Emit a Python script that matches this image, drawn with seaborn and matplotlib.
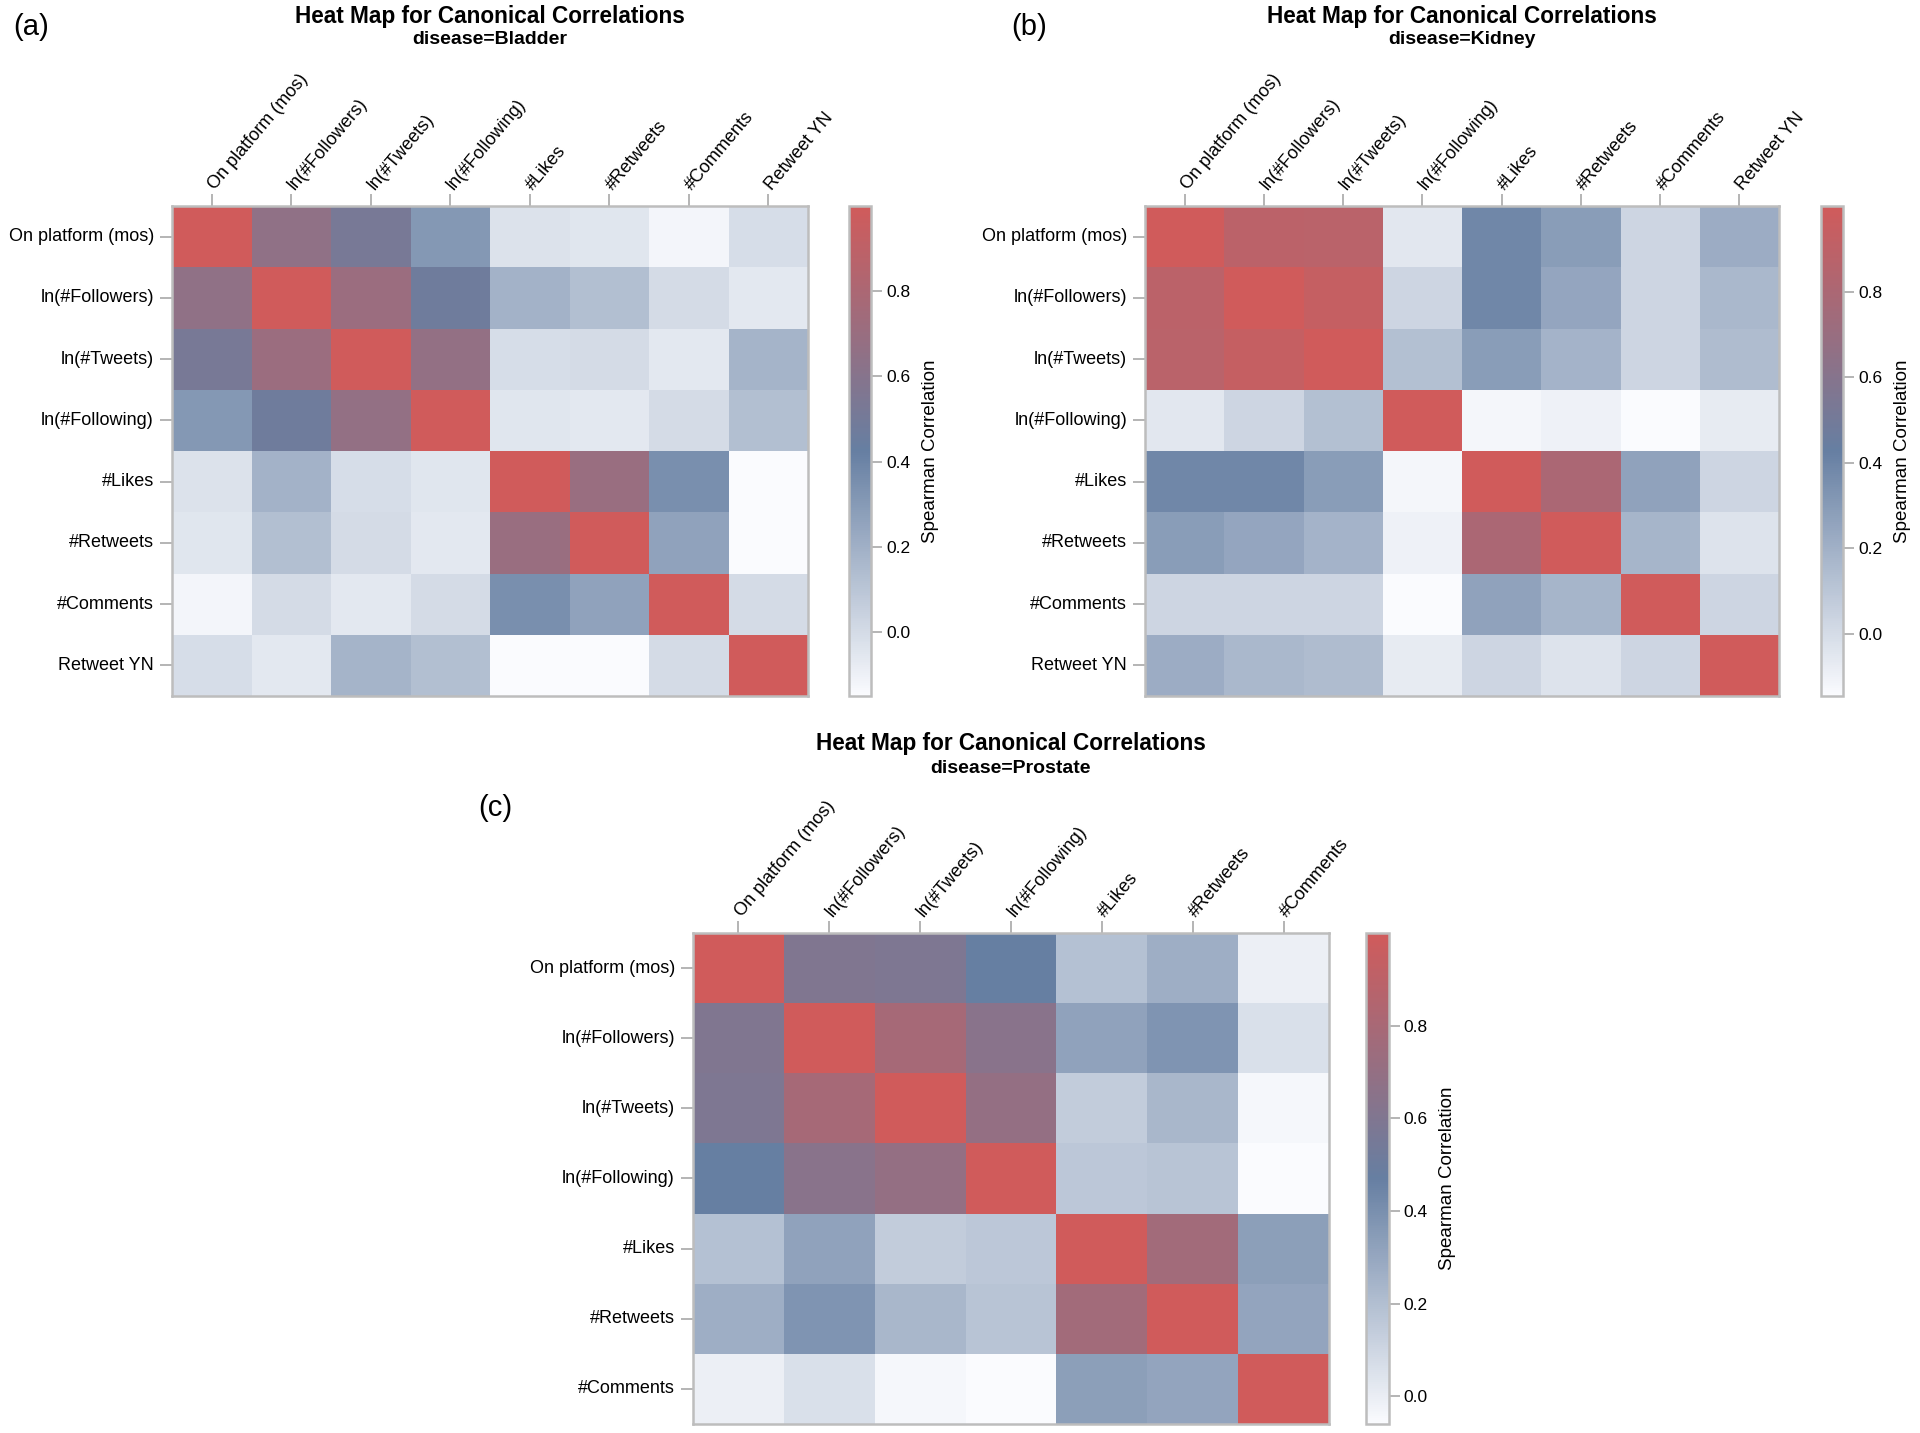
import numpy as np
import pandas as pd
import matplotlib
matplotlib.use("Agg")
import matplotlib.pyplot as plt
from matplotlib.colors import LinearSegmentedColormap
import seaborn as sns

# variable names (rows/cols of the correlation matrices)
vars_8 = ["On platform (mos)", "ln(#Followers)", "ln(#Tweets)", "ln(#Following)",
          "#Likes", "#Retweets", "#Comments", "Retweet YN"]
vars_7 = vars_8[:7]

# Spearman correlations
bladder = [
    [1.00, 0.65, 0.52, 0.31, -0.03, -0.05, -0.12, -0.01],
    [0.65, 1.00, 0.71, 0.47, 0.19, 0.13, 0.00, -0.06],
    [0.52, 0.71, 1.00, 0.67, -0.01, 0.00, -0.06, 0.18],
    [0.31, 0.47, 0.67, 1.00, -0.05, -0.06, 0.00, 0.13],
    [-0.03, 0.19, -0.01, -0.05, 1.00, 0.70, 0.35, -0.15],
    [-0.05, 0.13, 0.00, -0.06, 0.70, 1.00, 0.26, -0.15],
    [-0.12, 0.00, -0.06, 0.00, 0.35, 0.26, 1.00, 0.00],
    [-0.01, -0.06, 0.18, 0.13, -0.15, -0.15, 0.00, 1.00],
]

kidney = [
    [1.00, 0.885, 0.875, -0.05, 0.39, 0.29, 0.03, 0.22],
    [0.885, 1.00, 0.94, 0.03, 0.39, 0.25, 0.03, 0.165],
    [0.875, 0.94, 1.00, 0.13, 0.29, 0.19, 0.03, 0.15],
    [-0.05, 0.03, 0.13, 1.00, -0.12, -0.10, -0.145, -0.07],
    [0.39, 0.39, 0.29, -0.12, 1.00, 0.80, 0.265, 0.03],
    [0.29, 0.25, 0.19, -0.10, 0.80, 1.00, 0.18, -0.03],
    [0.03, 0.03, 0.03, -0.145, 0.265, 0.18, 1.00, 0.03],
    [0.22, 0.165, 0.15, -0.07, 0.03, -0.03, 0.03, 1.00],
]

prostate = [
    [1.00, 0.60, 0.59, 0.47, 0.19, 0.27, -0.01],
    [0.60, 1.00, 0.79, 0.64, 0.32, 0.38, 0.06],
    [0.59, 0.79, 1.00, 0.70, 0.14, 0.23, -0.04],
    [0.47, 0.64, 0.70, 1.00, 0.16, 0.18, -0.06],
    [0.19, 0.32, 0.14, 0.16, 1.00, 0.77, 0.335],
    [0.27, 0.38, 0.23, 0.18, 0.77, 1.00, 0.31],
    [-0.01, 0.06, -0.04, -0.06, 0.335, 0.31, 1.00],
]

diseases = ["Bladder", "Kidney", "Prostate"]
panel_tags = ["(a)", "(b)", "(c)"]
cbar_ticks = [0.0, 0.2, 0.4, 0.6, 0.8]

sns.set_theme(style="white")
plt.rcParams["font.family"] = ["Liberation Sans", "DejaVu Sans"]
plt.rcParams["text.color"] = "black"
plt.rcParams["xtick.labelcolor"] = "black"
plt.rcParams["ytick.labelcolor"] = "black"
plt.rcParams["axes.labelcolor"] = "black"

# SAS-like three colour ramp
ramp = LinearSegmentedColormap.from_list("three_ramp", ["#FAFBFE", "#667FA2", "#D05B5B"])
frame_grey = "#bdbdbd"

fig = plt.figure(figsize=(19.2, 14.33), dpi=100)

# [heatmap box, colorbar box, title x, title y, subtitle y, tag x, tag y]
layout = [
    ([0.0896, 0.5143, 0.3313, 0.3419], [0.4422, 0.5143, 0.0115, 0.3419], 0.2552, 0.9888, 0.9721, 0.016, 0.981),
    ([0.5964, 0.5143, 0.3302, 0.3419], [0.9484, 0.5143, 0.0115, 0.3419], 0.7615, 0.9888, 0.9721, 0.536, 0.981),
    ([0.3609, 0.0063, 0.3313, 0.3426], [0.7117, 0.0063, 0.0115, 0.3426], 0.5265, 0.4815, 0.4634, 0.258, 0.436),
]

matrices = [(bladder, vars_8), (kidney, vars_8), (prostate, vars_7)]

for (mat, names), disease, tag, lay in zip(matrices, diseases, panel_tags, layout):
    hm_box, cb_box, tx, ty, sy, gx, gy = lay
    ax = fig.add_axes(hm_box)
    cax = fig.add_axes(cb_box)
    df = pd.DataFrame(mat, index=names, columns=names)

    # vmin/vmax default to the data range, like the original
    sns.heatmap(df, ax=ax, cmap=ramp, cbar_ax=cax,
                cbar_kws={"label": "Spearman Correlation", "ticks": cbar_ticks})

    # labels on top, slanted
    ax.xaxis.tick_top()
    ax.set_xticklabels(names, rotation=50, ha="left", va="center",
                       rotation_mode="anchor", fontsize=13)
    ax.set_yticklabels(names, rotation=0, fontsize=13)
    ax.tick_params(axis="x", length=9, width=1.2, color="#a8a8a8", pad=4, top=True, bottom=False)
    ax.tick_params(axis="y", length=9, width=1.2, color="#a8a8a8", pad=4, left=True)
    ax.set_xlabel("")
    ax.set_ylabel("")
    for sp in ax.spines.values():
        sp.set_visible(True)
        sp.set_color(frame_grey)
        sp.set_linewidth(1.8)

    # colorbar look
    cb = ax.collections[0].colorbar
    cb.outline.set_edgecolor(frame_grey)
    cb.outline.set_linewidth(1.8)
    cax.tick_params(length=8, width=1.2, color="#a8a8a8", labelsize=12.5, pad=3)
    cax.yaxis.label.set_size(13.5)
    cax.yaxis.labelpad = 8

    fig.text(tx, ty, "Heat Map for Canonical Correlations", ha="center", va="center",
             fontsize=16.3, fontweight="bold")
    fig.text(tx, sy, f"disease={disease}", ha="center", va="center",
             fontsize=14, fontweight="bold")
    fig.text(gx, gy, tag, ha="center", va="center", fontsize=21)

fig.savefig("out.png", dpi=100, facecolor="white")
